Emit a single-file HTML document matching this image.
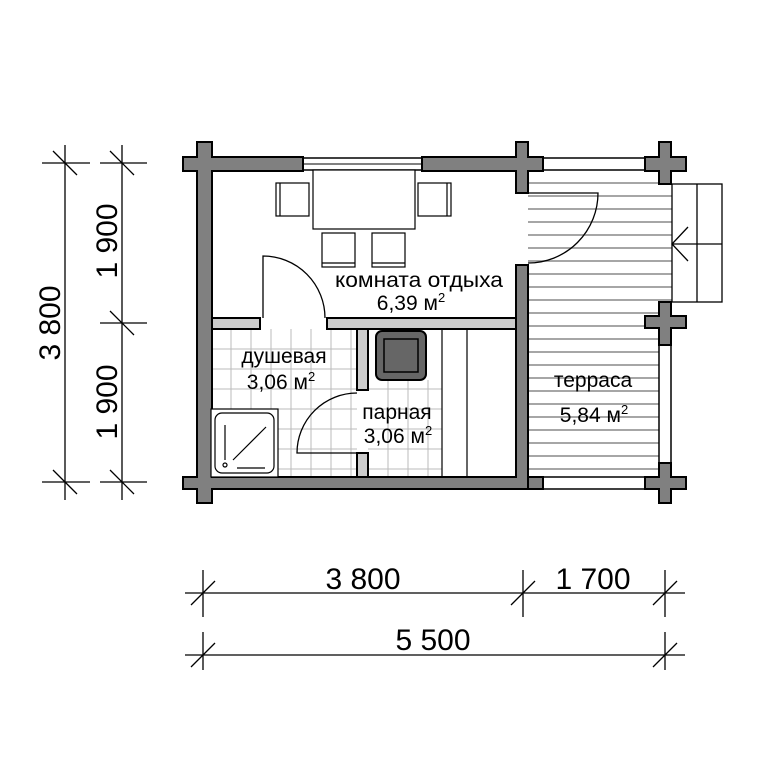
<!DOCTYPE html>
<html><head><meta charset="utf-8"><style>body{margin:0;background:#fff}svg{display:block}</style></head><body>
<svg width="761" height="761" viewBox="0 0 761 761" xmlns="http://www.w3.org/2000/svg" font-family="Liberation Sans, sans-serif">
<rect width="761" height="761" fill="#fff"/>
<!-- tile grid -->
<g stroke="#bbb" stroke-width="1">
<path d="M231 329V477M251 329V477M271 329V477M291 329V477M311 329V477M331 329V477M351 329V477M388 380V477M408 380V477M428 380V477"/>
<path d="M211 349H357M211 369H357M211 389H357M211 409H357M211 429H357M211 449H357M211 469H357M368 389H442M368 409H442M368 429H442M368 449H442M368 469H442"/>
</g>
<g stroke="#000" stroke-width="1.2"><path d="M442 329V477M467 329V477"/></g>
<!-- terrace hatch -->
<g stroke="#888" stroke-width="1.4">
<path d="M528 183H672M528 196H672M528 209H672M528 222H672M528 235H672M528 248H672M528 261H672M528 274H672M528 287H672M528 300H672M528 313H659M528 326H659M528 339H659M528 352H659M528 365H659M528 378H659M528 391H659M528 404H659M528 417H659M528 430H659M528 443H659M528 456H659M528 469H659"/>
</g>
<!-- terrace rails -->
<g fill="#fff" stroke="#000" stroke-width="1.5">
<rect x="528" y="158" width="131" height="12"/>
<rect x="528" y="477" width="131" height="12"/>
<rect x="659" y="345" width="12" height="118"/>
<rect x="303" y="158" width="119" height="12"/>
</g>
<path d="M303 164H422" stroke="#000" stroke-width="1"/>
<!-- steps -->
<g fill="none" stroke="#000" stroke-width="1.3">
<rect x="672" y="184" width="50" height="118"/>
<path d="M697 184V302M672 244H722M688 227L672 244L688 261"/>
</g>
<!-- partitions light -->
<g fill="#ccc" stroke="#000" stroke-width="2">
<rect x="211" y="318" width="49" height="11"/>
<rect x="327" y="318" width="189" height="11"/>
<rect x="357" y="329" width="11" height="61"/>
<rect x="357" y="453" width="11" height="24"/>
</g>
<!-- walls -->
<g fill="#808080" stroke="#000" stroke-width="2">
<path d="M197 142H212V157H303V171H212V477H516V265H528V489H212V503H197V489H183V477H197V171H183V157H197Z"/>
<path d="M422 157H516V142H528V157H543V171H528V193H516V171H422Z"/>
<path d="M659 142H671V157H686V171H671V184H659V171H645V157H659Z"/>
<path d="M659 302H671V316H686V328H671V345H659V328H645V316H659Z"/>
<path d="M659 463H671V477H686V489H671V503H659V489H645V477H659Z"/>
<path d="M528 477H543V489H528Z"/>
</g>
<!-- stove -->
<rect x="376" y="331" width="50" height="49" rx="6" fill="#666" stroke="#000" stroke-width="2"/>
<rect x="384" y="339" width="34" height="33" fill="#666" stroke="#000" stroke-width="1.5"/>
<!-- furniture -->
<g fill="#fff" stroke="#000" stroke-width="1.2">
<rect x="313" y="170" width="102" height="59"/>
<rect x="276" y="183" width="33" height="33"/><path d="M280 183V216"/>
<rect x="418" y="183" width="33" height="33"/><path d="M447 183V216"/>
<rect x="322" y="233" width="33" height="34"/><path d="M322 263H355"/>
<rect x="372" y="233" width="33" height="34"/><path d="M372 263H405"/>
<rect x="211" y="409" width="67" height="68"/>
<rect x="215" y="413" width="59" height="60" rx="7"/>
<path d="M225 425V460M233 460L266 427M237 468H265"/>
<circle cx="225" cy="465" r="2"/>
</g>
<!-- doors -->
<g fill="none" stroke="#000" stroke-width="1.3">
<path d="M263 318V256A62 62 0 0 1 325 318"/>
<path d="M357 453H297A60 60 0 0 1 357 393"/>
<path d="M528 193H598A70 70 0 0 1 528 263"/>
</g>
<!-- labels -->
<g font-size="21" fill="#000" text-anchor="middle">
<text x="419" y="287" textLength="168" lengthAdjust="spacingAndGlyphs">комната отдыха</text>
<text x="411" y="310">6,39 м<tspan font-size="13" dy="-8">2</tspan></text>
<text x="284" y="363">душевая</text>
<text x="281" y="389">3,06 м<tspan font-size="13" dy="-8">2</tspan></text>
<text x="397" y="419">парная</text>
<text x="398" y="443">3,06 м<tspan font-size="13" dy="-8">2</tspan></text>
<text x="593" y="387">терраса</text>
<text x="594" y="422">5,84 м<tspan font-size="13" dy="-8">2</tspan></text>
</g>
<!-- dimensions -->
<g stroke="#000" stroke-width="1.3" fill="none">
<path d="M65 145V500M122 145V500"/>
<path d="M42 163H90M100 163H147M42 482H90M100 482H147M100 323H147"/>
<path d="M53 151L77 175M110 151L134 175M53 470L77 494M110 470L134 494M110 311L134 335"/>
<path d="M185 593H685M185 655H685"/>
<path d="M203 570V617M523 570V617M665 570V617M203 632V670M665 632V670"/>
<path d="M191 605L215 581M511 605L535 581M653 605L677 581M191 667L215 643M653 667L677 643"/>
</g>
<g font-size="30" fill="#000" text-anchor="middle">
<text transform="translate(60 323) rotate(-90)">3 800</text>
<text transform="translate(117 241) rotate(-90)">1 900</text>
<text transform="translate(117 402) rotate(-90)">1 900</text>
<text x="363" y="589">3 800</text>
<text x="593" y="589">1 700</text>
<text x="433" y="650">5 500</text>
</g>
</svg>
</body></html>
